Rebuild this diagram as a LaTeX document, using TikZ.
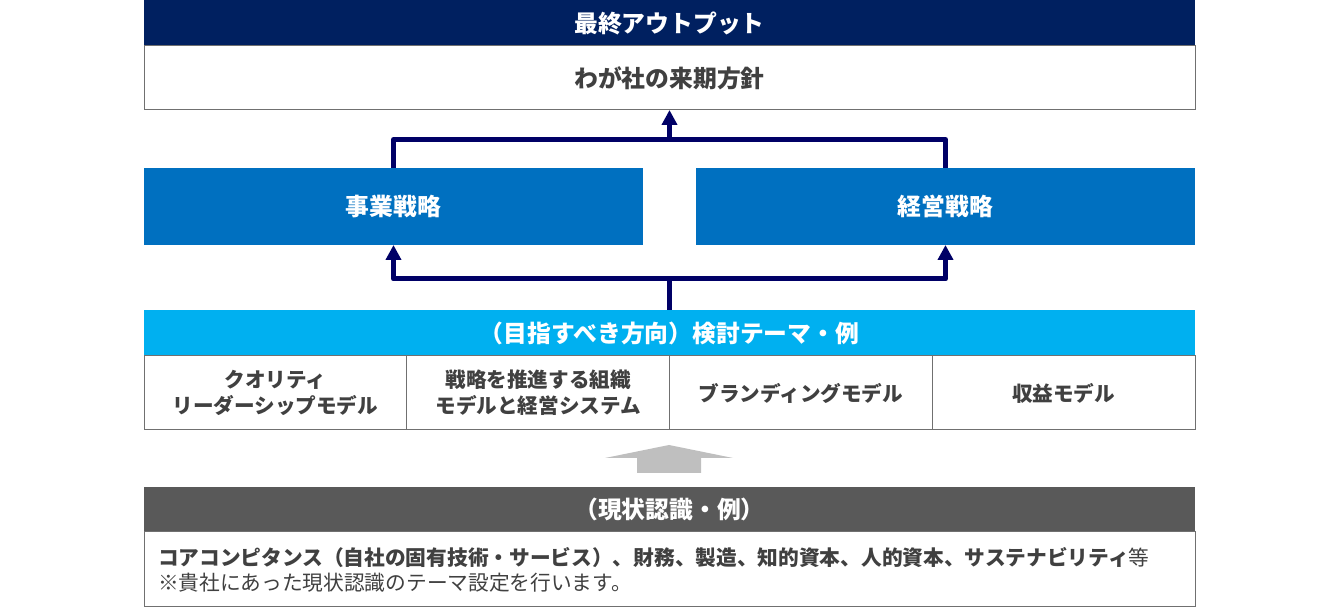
\documentclass[tikz,border=0pt]{standalone}
\usepackage{fontspec}
\setmainfont{Noto Sans CJK JP}
\usetikzlibrary{arrows.meta, positioning}
\definecolor{navyhead}{RGB}{0,32,96}
\definecolor{bizblue}{RGB}{0,112,192}
\definecolor{themecyan}{RGB}{0,176,240}
\definecolor{nowgrey}{RGB}{89,89,89}
\definecolor{flownavy}{RGB}{0,0,102}
\definecolor{textgrey}{RGB}{64,64,64}
\definecolor{framegrey}{RGB}{112,112,112}
\definecolor{liftgrey}{RGB}{191,191,191}

\begin{document}
\begin{tikzpicture}[x=0.5pt, y=-0.5pt, font=\bfseries\fontsize{11.9}{14}\selectfont,
    every node/.style={inner sep=0pt, outer sep=0pt, anchor=north west},
    head/.style={fill=#1, text=white, minimum width=525.5pt, minimum height=23pt},
    frame/.style={draw=framegrey, line width=0.5pt, fill=white, text=textgrey},
    strat/.style={fill=bizblue, text=white, minimum width=249.5pt, minimum height=38.5pt},
    cell/.style={frame, minimum width=131.375pt, minimum height=37pt, align=center, font=\bfseries\fontsize{10.3}{13}\selectfont},
    flow/.style={draw=flownavy, line width=2.5pt, line join=round},
    tip/.style={flow, -{Triangle[width=7.5pt, length=7.5pt]}}]
    \useasboundingbox (0,0) rectangle (1340,608);

    % Output
    \node[head=navyhead] (out) at (144,0) {最終アウトプット};
    \node[frame, minimum width=525.5pt, minimum height=32pt, below=0pt of out] (plan) {わが社の来期方針};

    % Strategies
    \node[strat] (biz) at (144,168) {事業戦略};
    \node[strat, right=26.5pt of biz] (mgmt) {経営戦略};

    % Themes
    \node[head=themecyan] (theme) at (144,310) {（目指すべき方向）検討テーマ・例};
    \node[cell] (c1) at (144,356) {クオリティ\\リーダーシップモデル};
    \node[cell, right=0pt of c1] (c2) {戦略を推進する組織\\モデルと経営システム};
    \node[cell, right=0pt of c2] (c3) {ブランディングモデル};
    \node[cell, right=0pt of c3] (c4) {収益モデル};

    % Flows
    \coordinate (upj) at (670,139.5);
    \coordinate (lowj) at (670,279);
    \draw[flow] (biz.north) |- (upj) -| (mgmt.north);
    \draw[tip] (plan.south |- upj) -- (plan.south);
    \draw[flow] (theme.north) -- (theme.north |- lowj);
    \draw[tip] (theme.north |- lowj) -| (biz.south);
    \draw[tip] (theme.north |- lowj) -| (mgmt.south);

    % Lift
    \fill[liftgrey] (669,445) -- (733,458) -- (701,458) -- (701,473) -- (637,473) -- (637,458) -- (605,458) -- cycle;

    % Current state
    \node[head=nowgrey, minimum height=22.5pt] (now) at (144,487) {（現状認識・例）};
    \node[frame, minimum width=525.5pt, minimum height=37.5pt, text width=511.5pt, inner xsep=7pt, align=left,
        font=\mdseries\fontsize{10.35}{12.5}\selectfont, below=0pt of now] (note)
        {\textbf{コアコンピタンス（自社の固有技術・サービス）、財務、製造、知的資本、人的資本、サステナビリティ}等\\
        ※貴社にあった現状認識のテーマ設定を行います。};
\end{tikzpicture}
\end{document}
